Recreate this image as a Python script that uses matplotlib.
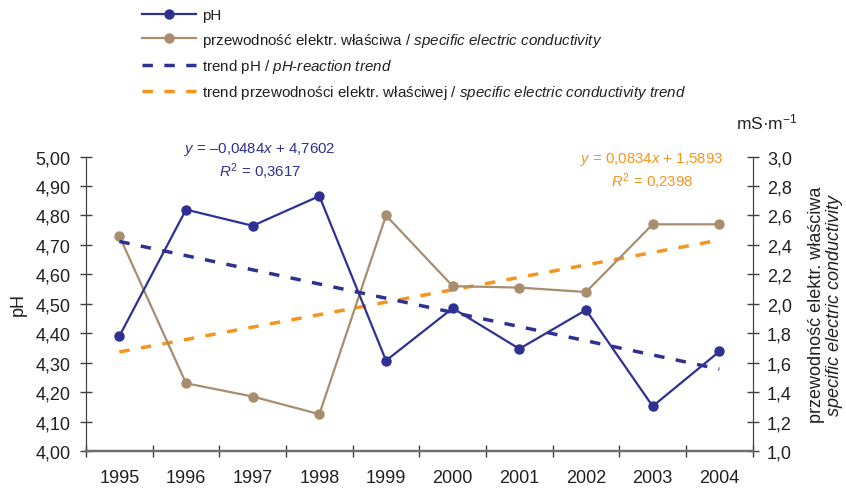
import numpy as np
import matplotlib
matplotlib.use("Agg")
import matplotlib.pyplot as plt
from matplotlib.ticker import FuncFormatter, FixedLocator

plt.rcParams['font.family'] = ['Liberation Sans', 'DejaVu Sans']
plt.rcParams['mathtext.fontset'] = 'custom'
plt.rcParams['mathtext.rm'] = 'Liberation Sans'
plt.rcParams['mathtext.it'] = 'Liberation Sans:italic'

# dane
lata = ['1995', '1996', '1997', '1998', '1999', '2000', '2001', '2002', '2003', '2004']
ph = [4.39, 4.82, 4.765, 4.866, 4.307, 4.485, 4.347, 4.479, 4.152, 4.338]
przewodnosc = [2.46, 1.46, 1.37, 1.25, 2.60, 2.12, 2.11, 2.08, 2.54, 2.54]

eq_ph = ['$\\mathit{y}$ = \u20130,0484$\\mathit{x}$ + 4,7602', '$\\mathit{R}^2$ = 0,3617']
eq_ec = ['$\\mathit{y}$ = 0,0834$\\mathit{x}$ + 1,5893', '$\\mathit{R}^2$ = 0,2398']

c_ph = '#2e3192'
c_ec = '#a88d6e'
c_tr = '#f7941d'
c_txt = '#231f20'

fig = plt.figure(figsize=(8.46, 4.89), dpi=100)
ax1 = fig.add_axes([0.1017, 0.0757, 0.788, 0.602])
ax2 = ax1.twinx()

x = np.arange(len(lata))
xn = x + 1

# linie trendu (regresja liniowa)
a1, b1 = np.polyfit(xn, ph, 1)
a2, b2 = np.polyfit(xn, przewodnosc, 1)

l_ph, = ax1.plot(x, ph, color=c_ph, lw=1.6, marker='o', ms=6.5, zorder=4)
l_tph, = ax1.plot(x, a1 * xn + b1, color=c_ph, lw=2.5, ls=(0, (3, 3.3)), zorder=3)
l_ec, = ax2.plot(x, przewodnosc, color=c_ec, lw=1.6, marker='o', ms=6.5, zorder=2)
l_tec, = ax2.plot(x, a2 * xn + b2, color=c_tr, lw=2.5, ls=(0, (3, 3.3)), zorder=1)
ax1.set_zorder(2)
ax1.patch.set_visible(False)

ax1.set_xlim(-0.5, 9.5)
ax1.set_ylim(4.0, 5.0)
ax2.set_ylim(1.0, 3.0)
ax1.set_yticks(np.arange(4.0, 5.001, 0.1))
ax2.set_yticks(np.arange(1.0, 3.001, 0.2))
ax1.yaxis.set_major_formatter(FuncFormatter(lambda v, p: f'{v:.2f}'.replace('.', ',')))
ax2.yaxis.set_major_formatter(FuncFormatter(lambda v, p: f'{v:.1f}'.replace('.', ',')))

ax1.set_xticks(x)
ax1.set_xticklabels(lata)
ax1.xaxis.set_minor_locator(FixedLocator(np.arange(-0.5, 10, 1)))
ax1.tick_params(axis='x', which='major', length=0, pad=13, labelsize=13, labelcolor=c_txt)
ax1.tick_params(axis='x', which='minor', direction='inout', length=8, width=1, color='#404040')
ax1.tick_params(axis='y', direction='inout', length=8.5, width=1, color='#404040',
                pad=7, labelsize=13, labelcolor=c_txt)
ax2.tick_params(axis='y', direction='inout', length=8.5, width=1, color='#404040',
                pad=6, labelsize=13, labelcolor=c_txt)

for ax in (ax1, ax2):
    ax.spines['top'].set_visible(False)
    ax.spines['left'].set_color('#404040')
    ax.spines['right'].set_color('#404040')
    ax.spines['bottom'].set_color('#6d6e71')
    ax.spines['bottom'].set_linewidth(1.6)

ax1.set_ylabel('pH', fontsize=13, color=c_txt, labelpad=6)
fig.text(816 / 846, 0.376, 'przewodność elektr. właściwa', rotation=90,
         ha='center', va='center', fontsize=13, color=c_txt)
fig.text(834 / 846, 0.376, 'specific electric conductivity', rotation=90, style='italic',
         ha='center', va='center', fontsize=13, color=c_txt)
fig.text(767 / 846, 1 - 122 / 489, 'mS\u00b7m$^{-1}$', ha='center', va='center',
         fontsize=12.5, color=c_txt)

# równania trendu
fig.text(260 / 846, 1 - 150 / 489, eq_ph[0], ha='center', va='center', fontsize=10.8, color=c_ph)
fig.text(260 / 846, 1 - 172 / 489, eq_ph[1], ha='center', va='center', fontsize=10.8, color=c_ph)
fig.text(652 / 846, 1 - 160 / 489, eq_ec[0], ha='center', va='center', fontsize=10.8, color=c_tr)
fig.text(652 / 846, 1 - 182 / 489, eq_ec[1], ha='center', va='center', fontsize=10.8, color=c_tr)

etykiety = ['pH',
            'przewodność elektr. właściwa / $\\mathit{specific\\ electric\\ conductivity}$',
            'trend pH / $\\mathit{pH}$-$\\mathit{reaction\\ trend}$',
            'trend przewodności elektr. właściwej / $\\mathit{specific\\ electric\\ conductivity\\ trend}$']
leg = fig.legend([l_ph, l_ec, l_tph, l_tec], etykiety, loc='upper left',
                 bbox_to_anchor=(0.168, 0.981), frameon=False, fontsize=10.9,
                 handlelength=3.55, handletextpad=0.4, labelspacing=0.55,
                 borderpad=0, borderaxespad=0)
for t in leg.get_texts():
    t.set_color(c_txt)

plt.savefig('out.png', dpi=100)
